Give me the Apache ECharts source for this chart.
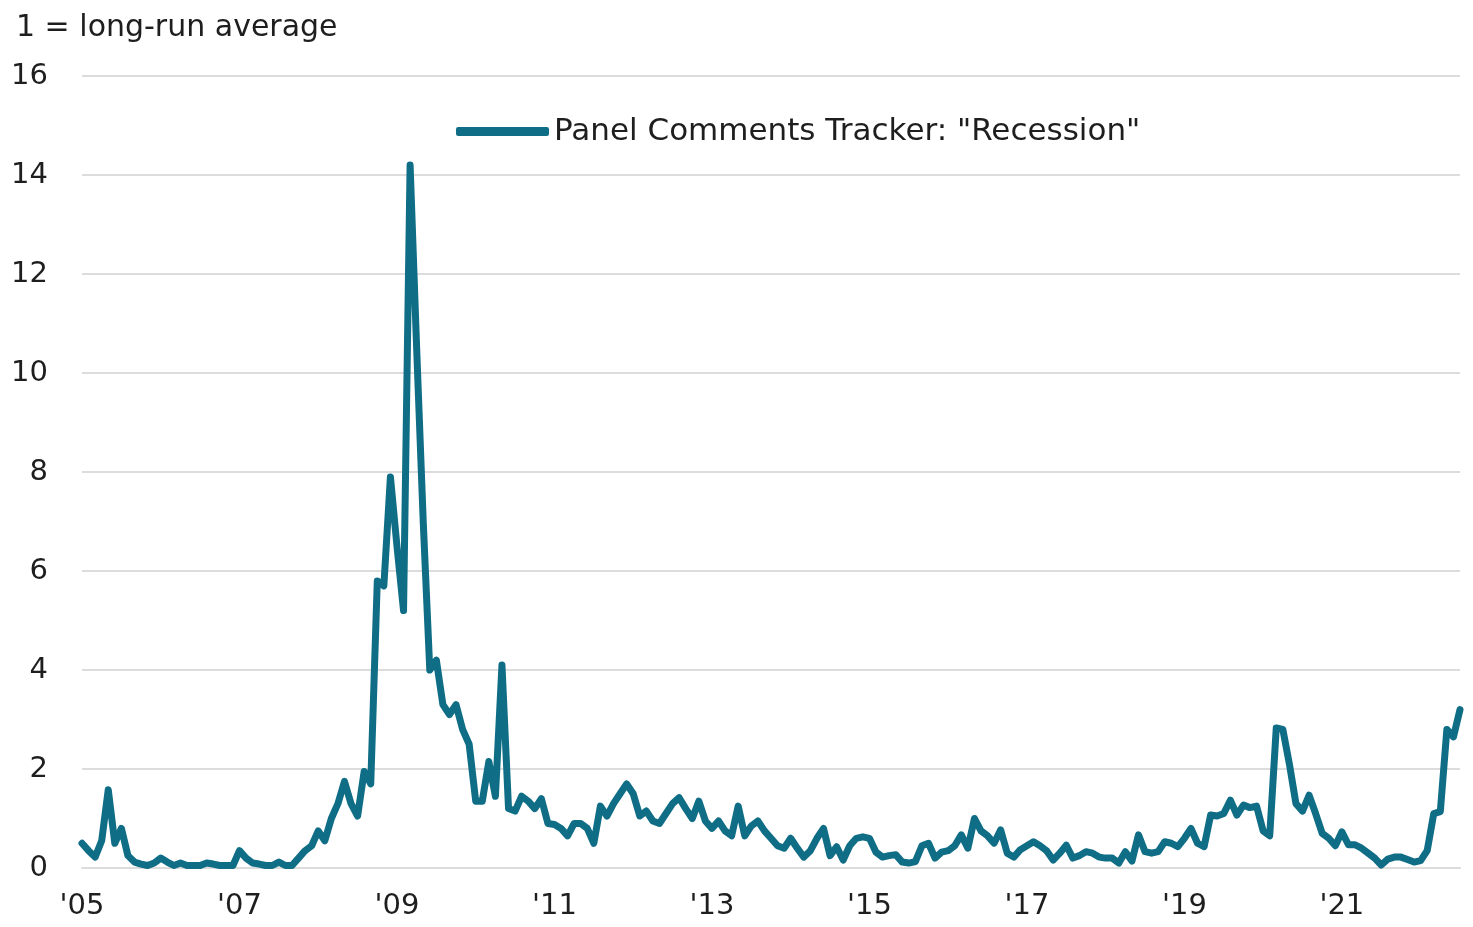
<!DOCTYPE html>
<html>
<head>
<meta charset="utf-8">
<script src="https://cdn.jsdelivr.net/npm/echarts@6/dist/echarts.min.js"></script>
<style>
  html, body { margin: 0; padding: 0; background: #fff; }
  #chart { width: 1473px; height: 927px; }
</style>
</head>
<body>
<div id="chart"></div>
<script>
// monthly readings, Jan 2005 .. Jul 2022 (1 = long-run average)
const y2005 = [0.5, 0.35, 0.22, 0.55, 1.58, 0.5, 0.8, 0.25, 0.12, 0.08, 0.05, 0.1];
const y2006 = [0.2, 0.12, 0.05, 0.1, 0.05, 0.05, 0.05, 0.1, 0.08, 0.05, 0.05, 0.05];
const y2007 = [0.35, 0.2, 0.1, 0.08, 0.05, 0.05, 0.12, 0.05, 0.05, 0.2, 0.35, 0.45];
const y2008 = [0.75, 0.55, 1.0, 1.3, 1.75, 1.3, 1.05, 1.95, 1.7, 5.8, 5.7, 7.9];
const y2009 = [6.5, 5.2, 14.2, 10.5, 7.0, 4.0, 4.2, 3.3, 3.1, 3.3, 2.8, 2.5];
const y2010 = [1.35, 1.35, 2.15, 1.45, 4.1, 1.2, 1.15, 1.45, 1.35, 1.2, 1.4, 0.9];
const y2011 = [0.88, 0.8, 0.65, 0.9, 0.9, 0.8, 0.5, 1.25, 1.05, 1.3, 1.5, 1.7];
const y2012 = [1.5, 1.05, 1.15, 0.95, 0.9, 1.1, 1.3, 1.42, 1.2, 1.0, 1.35, 0.95];
const y2013 = [0.8, 0.95, 0.75, 0.65, 1.25, 0.65, 0.85, 0.95, 0.75, 0.6, 0.45, 0.4];
const y2014 = [0.6, 0.4, 0.22, 0.35, 0.6, 0.8, 0.25, 0.43, 0.16, 0.45, 0.6, 0.63];
const y2015 = [0.6, 0.32, 0.22, 0.25, 0.27, 0.12, 0.1, 0.13, 0.45, 0.5, 0.2, 0.32];
const y2016 = [0.35, 0.45, 0.67, 0.4, 1.0, 0.75, 0.65, 0.5, 0.77, 0.3, 0.22, 0.37];
const y2017 = [0.45, 0.53, 0.45, 0.35, 0.16, 0.3, 0.46, 0.2, 0.25, 0.33, 0.3, 0.22];
const y2018 = [0.2, 0.2, 0.1, 0.33, 0.14, 0.67, 0.33, 0.3, 0.33, 0.53, 0.5, 0.43];
const y2019 = [0.6, 0.8, 0.5, 0.43, 1.07, 1.05, 1.1, 1.37, 1.07, 1.27, 1.22, 1.25];
const y2020 = [0.75, 0.65, 2.83, 2.8, 2.1, 1.3, 1.15, 1.47, 1.1, 0.7, 0.6, 0.45];
const y2021 = [0.73, 0.47, 0.47, 0.4, 0.3, 0.2, 0.06, 0.18, 0.22, 0.22, 0.17, 0.12];
const y2022 = [0.15, 0.35, 1.1, 1.14, 2.8, 2.65, 3.2];

const years = [y2005, y2006, y2007, y2008, y2009, y2010, y2011, y2012, y2013,
  y2014, y2015, y2016, y2017, y2018, y2019, y2020, y2021, y2022];

const months = [];
const values = [];
years.forEach((arr, i) => {
  arr.forEach((v, j) => {
    months.push((2005 + i) + "-" + String(j + 1).padStart(2, "0"));
    values.push(v);
  });
});

const FONT = "'DejaVu Sans', Verdana, sans-serif";
const LINE_COLOR = "#0f6d86";
const GRID_COLOR = "#dcdcdc";
const TEXT_COLOR = "#1e1e1e";

const chart = echarts.init(document.getElementById("chart"));
chart.setOption({
  animation: false,
  backgroundColor: "#fff",
  title: {
    text: "1 = long-run average",
    left: 11,
    top: 8,
    textStyle: { fontFamily: FONT, fontSize: 30, fontWeight: "normal", color: TEXT_COLOR },
  },
  legend: {
    data: ['Panel Comments Tracker: "Recession"'],
    left: 451,
    top: 111,
    icon: "roundRect",
    itemWidth: 93,
    itemHeight: 9,
    itemGap: 4,
    textStyle: { fontFamily: FONT, fontSize: 31, color: TEXT_COLOR, padding: [0, 0, 0, 0] },
  },
  grid: { left: 82, right: 13, top: 76, bottom: 59 },
  xAxis: {
    type: "category",
    data: months,
    boundaryGap: false,
    axisLine: { lineStyle: { color: GRID_COLOR, width: 2 } },
    axisTick: { show: false },
    axisLabel: {
      interval: (idx) => idx % 24 === 0,
      formatter: (val) => "'" + val.slice(2, 4),
      fontFamily: FONT,
      fontSize: 29,
      color: TEXT_COLOR,
      margin: 24,
    },
    splitLine: { show: false },
  },
  yAxis: {
    type: "value",
    min: 0,
    max: 16,
    interval: 2,
    axisLine: { show: false },
    axisTick: { show: false },
    axisLabel: { fontFamily: FONT, fontSize: 29, color: TEXT_COLOR, margin: 34 },
    splitLine: { lineStyle: { color: GRID_COLOR, width: 2 } },
  },
  series: [
    {
      name: 'Panel Comments Tracker: "Recession"',
      type: "line",
      data: values,
      showSymbol: false,
      symbol: "none",
      lineStyle: { color: LINE_COLOR, width: 7, join: "round", cap: "round" },
      itemStyle: { color: LINE_COLOR },
    },
  ],
});
</script>
</body>
</html>
